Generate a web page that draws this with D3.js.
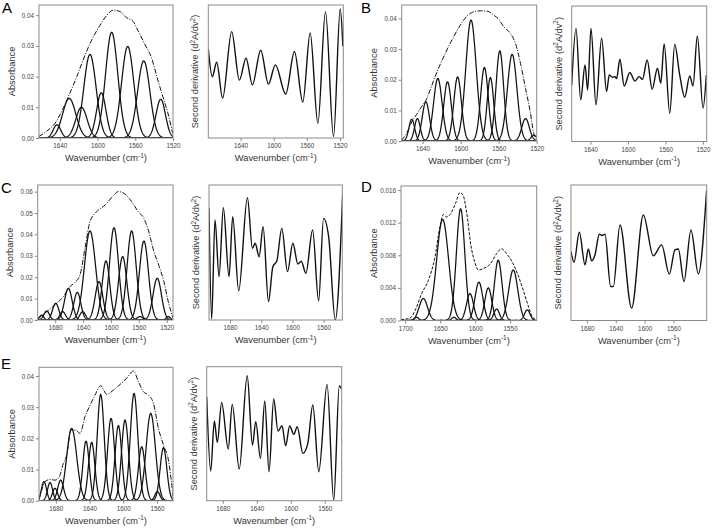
<!DOCTYPE html>
<html><head><meta charset="utf-8">
<script src="https://cdn.jsdelivr.net/npm/d3@7"></script>
<style>body{margin:0;background:#fff} svg{display:block;font-family:"Liberation Sans",Arial,Helvetica,sans-serif}</style>
</head><body><svg id="c" width="713" height="531"></svg>
<script>
// ---------- DATA ----------
// fitted component bands: [centre (cm-1), height (absorbance), gaussian sigma (cm-1)]
const bandsA = [[1643,0.0043,4],[1630,0.0129,7],[1617,0.0100,6],[1608,0.0272,6.5],[1596,0.0147,5],[1585,0.0344,6.5],[1568,0.0298,6.5],[1551,0.0251,6.5],[1533,0.0126,5]];
const bandsB = [[1651.4,0.0071,3],[1645.5,0.0073,3],[1636.6,0.0128,3.8],[1624,0.0204,4.5],[1613.8,0.0193,4],[1603.2,0.0209,4],[1589.1,0.0395,5.5],[1575,0.024,4],[1568.7,0.0207,3.5],[1558.8,0.0294,4],[1545.8,0.0283,5],[1531.7,0.0073,4],[1523,0.0019,3]];
const bandsC = [[1699.3,0.0023,3],[1692.1,0.0042,4],[1679.2,0.0078,4.5],[1669.2,0.0039,4],[1661.1,0.0148,5.5],[1648.2,0.0129,5],[1640.5,0.0039,4],[1630,0.0416,8],[1617.1,0.0179,5.5],[1607.1,0.0276,5.5],[1595.6,0.0431,6.5],[1583.2,0.0296,6],[1570.3,0.0416,6.5],[1558.4,0.0016,4],[1552.7,0.0369,6.5],[1533.6,0.0195,6],[1517.8,0.0016,3]];
const bandsD = [[1683.6,0.0004,3],[1674.1,0.0027,6],[1646.5,0.0124,8.5],[1630.3,0.0004,3],[1620.8,0.0137,6],[1607.4,0.0033,5],[1594.6,0.0047,5.5],[1581.2,0.0040,5],[1567,0.0074,5.5],[1569.3,0.0014,4],[1545.5,0.0062,6.5],[1525.5,0.0013,4]];
const bandsE = [[1694.1,0.0061,3],[1686.9,0.0058,3],[1681,0.0040,3],[1674.3,0.0066,3.5],[1661.2,0.0232,6],[1644.2,0.0191,3.8],[1637.5,0.0187,3.8],[1626.8,0.0341,4.2],[1614.5,0.0264,4.2],[1605.8,0.0241,4],[1597.9,0.0259,4.2],[1587.2,0.0344,4.5],[1578.1,0.0173,4],[1567.4,0.028,5.5],[1559.5,0.0029,3],[1552.3,0.017,4]];

// measured spectra (envelope): [wavenumber, absorbance]
const envA = [[1662,0.0005],[1654,0.0022],[1645,0.0048],[1638,0.0086],[1631,0.0134],[1622,0.0199],[1613.4,0.0269],[1606.4,0.0317],[1597.6,0.0366],[1590.5,0.0398],[1583.5,0.0416],[1576.4,0.0412],[1569.4,0.0392],[1562.4,0.038],[1557,0.0349],[1550,0.0306],[1543,0.0263],[1536,0.0188],[1530.7,0.0134],[1525.4,0.0081],[1520.4,0.0016]];
const envB = [[1662,0.0002],[1656.7,0.0026],[1651.4,0.0062],[1646.2,0.0087],[1640.9,0.0113],[1635.6,0.0138],[1630.3,0.0182],[1623.3,0.0237],[1616.2,0.0286],[1607.4,0.034],[1600.4,0.0378],[1593.3,0.0408],[1586.3,0.0422],[1579.3,0.0425],[1572.2,0.0424],[1565.2,0.0411],[1559.9,0.0397],[1554.6,0.0373],[1547.6,0.0351],[1542.3,0.0318],[1537,0.0253],[1531.7,0.0171],[1527.1,0.01],[1523,0.0024],[1519.4,0.0004]];
const envC = [[1705,0.0005],[1696.9,0.0026],[1687.3,0.0051],[1677.8,0.0078],[1668.2,0.0109],[1658.7,0.0156],[1651.5,0.0176],[1644.4,0.021],[1637.2,0.0335],[1630,0.046],[1620.5,0.0506],[1608.5,0.0537],[1596.6,0.0581],[1589.4,0.06],[1581.3,0.0592],[1570.3,0.0553],[1560.8,0.0506],[1552.7,0.0475],[1546.5,0.0421],[1538.3,0.0319],[1530.7,0.0249],[1524,0.0179],[1517.8,0.0086],[1511,0.0008]];
const envD = [[1706,0.0001],[1693.1,0.0003],[1686,0.0012],[1676.5,0.0033],[1667,0.0049],[1657.4,0.0078],[1650.3,0.0115],[1645.5,0.013],[1640.8,0.0127],[1635,0.0131],[1627.9,0.0144],[1621.7,0.0157],[1617,0.0153],[1612.2,0.0133],[1606,0.0092],[1600.3,0.0071],[1595.5,0.0062],[1587.4,0.0064],[1577.9,0.007],[1569.3,0.0082],[1562.2,0.0088],[1555,0.0082],[1546.5,0.0071],[1538.4,0.0055],[1531.2,0.0037],[1524.1,0.0018],[1517.9,0.0004],[1512,0.0001]];
const envE = [[1700,0.0002],[1696.8,0.0034],[1692.9,0.0061],[1686.9,0.0068],[1681,0.0066],[1675.9,0.0077],[1671.1,0.012],[1667.1,0.0147],[1662,0.0227],[1656.1,0.0226],[1651.3,0.0216],[1645.4,0.027],[1640.2,0.0302],[1633.5,0.0339],[1626.8,0.0369],[1619.6,0.0341],[1611.7,0.0355],[1603.8,0.0373],[1595.9,0.0393],[1588,0.0416],[1582,0.0382],[1576.1,0.035],[1570.2,0.0339],[1564.2,0.0312],[1558.3,0.0232],[1552.3,0.0179],[1546.4,0.013],[1540.9,0.0013]];

// second-derivative spectra (arbitrary units 0-100): [wavenumber, value]
const derivA = [[1679,67],[1674.2,46],[1668.9,57],[1661.7,30],[1650.8,80],[1641.5,43.5],[1633.4,60],[1625.8,40],[1615.7,66],[1606.4,40.5],[1598,55],[1585.5,33],[1575,65],[1564.9,27],[1556,79],[1546.7,11],[1537.5,95],[1527.8,1],[1519.7,97],[1516.5,69]];
const derivB = [[1660,41.8],[1655.4,83.5],[1650.4,30.7],[1645.8,56.5],[1643,38],[1639.4,83.5],[1634.1,27],[1628.1,76.2],[1622.8,36.9],[1619.9,49.1],[1616.7,47.4],[1613.9,47.9],[1612.1,46.4],[1608.6,60.7],[1604,41],[1598,50.9],[1592.6,44.7],[1588,47.9],[1584.5,45.9],[1579.5,60.2],[1574.2,38.6],[1568.5,54.1],[1565,43],[1561.4,72],[1555.4,20.9],[1550.1,71.7],[1544.8,49.1],[1539.4,32.7],[1534.1,48.4],[1530.6,41],[1526,77.9],[1519.9,24.6],[1516.4,49.1]];
const derivC = [[1707,82.7],[1703.6,0.7],[1699.3,74.1],[1694.1,32.1],[1688.6,83.2],[1681.3,32.1],[1676.6,76.5],[1668.9,21.5],[1657.7,90.6],[1651.3,53.1],[1647.8,56.8],[1642.7,46.9],[1637.6,69.1],[1630.7,13.6],[1625.1,39.5],[1620,43.7],[1613.6,67.9],[1606.3,35.8],[1599.4,56.8],[1593,41.5],[1588.7,43.5],[1582.7,34.6],[1574.1,66.7],[1566.4,14.1],[1560,75.3],[1553.5,61.7],[1545,0],[1535.5,93.8]];
const derivD = [[1702,50.9],[1697.8,43],[1690.5,65.1],[1682.6,41],[1678,52.8],[1673.4,44],[1668.8,48.4],[1662.8,63.6],[1658.6,62.7],[1654.9,63.6],[1647.1,25.1],[1643.4,25.1],[1634.1,70.5],[1618,9.1],[1601.8,77.9],[1588,47.7],[1576.4,55.8],[1565.8,34.2],[1558,52.1],[1553.3,52.8],[1545.5,28.7],[1535.8,66.8],[1525.6,34.4],[1514.1,96.3]];
const derivE = [[1699,77.6],[1694.3,22.1],[1690,59.5],[1686.5,43.5],[1681.4,73.4],[1673.6,38.6],[1668.9,71.9],[1660.7,23.6],[1651.3,93.3],[1645.1,41.5],[1641.2,59],[1635.7,31.6],[1630.6,74.4],[1625.6,21.6],[1620.1,75.9],[1615,52],[1610.3,56],[1606,41],[1601.3,55.7],[1596.3,49.5],[1592.4,55.2],[1585.7,35.3],[1579.9,42.8],[1574,71.4],[1567,21.6],[1557.2,86.8],[1549.4,0.5],[1542.8,85.8],[1540.8,83.8]];

// tick labels
const absTicksA = [0,0.01,0.02,0.03,0.04];
const absTicksB = [0,0.01,0.02,0.03,0.04];
const absTicksC = [0,0.01,0.02,0.03,0.04,0.05,0.06];
const absTicksD = [0,0.004,0.008,0.012,0.016];
const absTicksE = [0,0.01,0.02,0.03,0.04];
const waveTicksAB = [1640,1600,1560,1520];
const waveTicksC = [1680,1640,1600,1560,1520];
const waveTicksD = [1700,1650,1600,1550];
const waveTicksDeriv = [1680,1640,1600,1560];

// ---------- DRAWING ----------
const svg = d3.select("#c");
const FRAME = "#8a8a8a", TXT = "#333";
let clipId = 0;

const panels = [
  {letter:"A", lx:2, ly:13,
   L:{x0:39,x1:173,y0:5,y1:138,xd:[1662,1520],yd:[0,0.0433],bands:bandsA,env:envA,yt:absTicksA,xt:waveTicksAB,fmt:".2f",dash:"5,1.5,1,1.5"},
   R:{x0:208.3,x1:343.3,y0:5,y1:138,xd:[1679,1516],deriv:derivA,xt:waveTicksAB}},
  {letter:"B", lx:361, ly:13,
   L:{x0:401.7,x1:536.7,y0:5,y1:141,xd:[1662,1520],yd:[0,0.0444],bands:bandsB,env:envB,yt:absTicksB,xt:waveTicksAB,fmt:".2f",dash:"5,1.5,1,1.5"},
   R:{x0:571.7,x1:706.7,y0:6,y1:141.5,xd:[1660,1516],deriv:derivB,xt:waveTicksAB}},
  {letter:"C", lx:1, ly:193,
   L:{x0:37.7,x1:173,y0:185,y1:320,xd:[1705,1511],yd:[0,0.0631],bands:bandsC,env:envC,yt:absTicksC,xt:waveTicksC,fmt:".2f",dash:"5,1.5,1,1.5"},
   R:{x0:209,x1:342.3,y0:185,y1:320,xd:[1707,1536],deriv:derivC,xt:waveTicksDeriv}},
  {letter:"D", lx:361, ly:192,
   L:{x0:401,x1:536.7,y0:186,y1:320.5,xd:[1706,1512],yd:[0,0.0165],bands:bandsD,env:envD,yt:absTicksD,xt:waveTicksD,fmt:".3f",dash:"3,1.5"},
   R:{x0:571,x1:706.7,y0:185,y1:320.5,xd:[1702,1514],deriv:derivD,xt:waveTicksDeriv}},
  {letter:"E", lx:1, ly:369,
   L:{x0:39,x1:173,y0:367.3,y1:500.7,xd:[1700,1541],yd:[0,0.0428],bands:bandsE,env:envE,yt:absTicksE,xt:waveTicksDeriv,fmt:".2f",dash:"5,1.5,1,1.5"},
   R:{x0:206.7,x1:341.7,y0:366.7,y1:500.7,xd:[1699,1540],deriv:derivE,xt:waveTicksDeriv}}
];

function frameAndClip(p){
  const id = "clip" + (clipId++);
  svg.append("clipPath").attr("id", id).append("rect")
    .attr("x", p.x0).attr("y", p.y0).attr("width", p.x1 - p.x0).attr("height", p.y1 - p.y0);
  return id;
}
function drawFrame(p){
  svg.append("rect").attr("x", p.x0).attr("y", p.y0)
    .attr("width", p.x1 - p.x0).attr("height", p.y1 - p.y0)
    .attr("fill", "none").attr("stroke", FRAME).attr("stroke-width", 1);
}
function styleAxis(g){
  g.select(".domain").remove();
  g.selectAll(".tick line").attr("stroke", FRAME);
  g.selectAll(".tick text").attr("fill", "#444").style("font-size", "6.3px")
    .style("font-family", '"Liberation Sans",Arial,sans-serif');
}
function xTitle(p){
  const t = svg.append("text").attr("x", (p.x0 + p.x1) / 2).attr("y", p.y1 + 23)
    .attr("text-anchor", "middle").attr("fill", TXT).style("font-size", "9.3px");
  t.append("tspan").text("Wavenumber (cm");
  t.append("tspan").attr("dy", -3.5).style("font-size", "6.5px").text("-1");
  t.append("tspan").attr("dy", 3.5).text(")");
}
function bottomAxis(p, x){
  const g = svg.append("g").attr("transform", `translate(0,${p.y1})`)
    .call(d3.axisBottom(x).tickValues(p.xt).tickSize(3).tickPadding(3).tickFormat(d3.format("d")));
  styleAxis(g);
}

function drawLeft(p){
  const x = d3.scaleLinear().domain(p.xd).range([p.x0, p.x1]);
  const y = d3.scaleLinear().domain(p.yd).range([p.y1, p.y0]);
  const id = frameAndClip(p);
  const gp = svg.append("g").attr("clip-path", `url(#${id})`);
  const lo = Math.min(...p.xd), hi = Math.max(...p.xd);
  const grid = d3.range(hi, lo - 0.25, -0.25);
  const line = d3.line().x(d => x(d[0])).y(d => y(d[1]));
  p.bands.forEach(b => {
    const pts = grid.map(w => [w, b[1] * Math.exp(-((w - b[0]) ** 2) / (2 * b[2] * b[2]))]);
    gp.append("path").attr("d", line(pts)).attr("fill", "none")
      .attr("stroke", "#111").attr("stroke-width", 1.25);
  });
  gp.append("path").attr("d", line.curve(d3.curveMonotoneX)(p.env)).attr("fill", "none")
    .attr("stroke", "#111").attr("stroke-width", 1).attr("stroke-dasharray", p.dash);
  drawFrame(p);
  const ga = svg.append("g").attr("transform", `translate(${p.x0},0)`)
    .call(d3.axisLeft(y).tickValues(p.yt).tickSize(3).tickPadding(2).tickFormat(d3.format(p.fmt)));
  styleAxis(ga);
  bottomAxis(p, x);
  xTitle(p);
  svg.append("text").attr("transform", `translate(${p.x0 - 24.5},${(p.y0 + p.y1) / 2}) rotate(-90)`)
    .attr("text-anchor", "middle").attr("fill", TXT).style("font-size", "9.3px").text("Absorbance");
}

function drawRight(p){
  const x = d3.scaleLinear().domain(p.xd).range([p.x0, p.x1]);
  const y = d3.scaleLinear().domain([0, 100]).range([p.y1, p.y0]);
  const id = frameAndClip(p);
  const gp = svg.append("g").attr("clip-path", `url(#${id})`);
  const line = d3.line().x(d => x(d[0])).y(d => y(d[1])).curve(d3.curveMonotoneX);
  gp.append("path").attr("d", line(p.deriv)).attr("fill", "none")
    .attr("stroke", "#111").attr("stroke-width", 1.4);
  drawFrame(p);
  bottomAxis(p, x);
  xTitle(p);
  const t = svg.append("text").attr("transform", `translate(${p.x0 - 10},${(p.y0 + p.y1) / 2}) rotate(-90)`)
    .attr("text-anchor", "middle").attr("fill", TXT).style("font-size", "9.3px");
  t.append("tspan").text("Second derivative (d");
  t.append("tspan").attr("dy", -3.5).style("font-size", "6.5px").text("2");
  t.append("tspan").attr("dy", 3.5).text("A/dv");
  t.append("tspan").attr("dy", -3.5).style("font-size", "6.5px").text("2");
  t.append("tspan").attr("dy", 3.5).text(")");
}

panels.forEach(pn => {
  drawLeft(pn.L);
  drawRight(pn.R);
  svg.append("text").attr("x", pn.lx).attr("y", pn.ly).attr("fill", "#000")
    .style("font-size", "15px").text(pn.letter);
});
</script>
</body></html>
